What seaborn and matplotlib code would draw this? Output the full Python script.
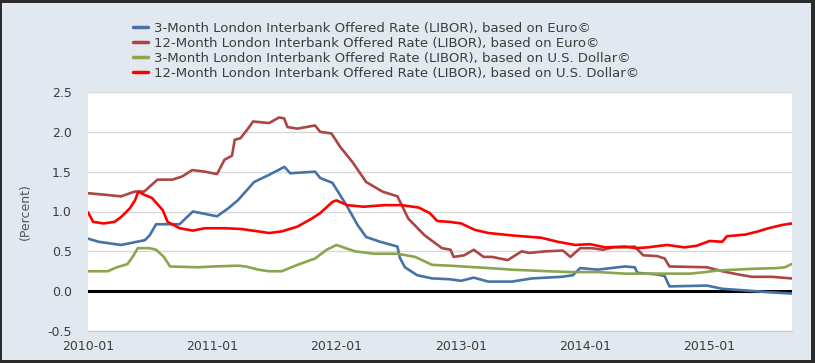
import matplotlib.pyplot as plt
import matplotlib.dates as mdates
from matplotlib import ticker
from matplotlib.patches import Rectangle
import numpy as np
import pandas as pd
import seaborn as sns

SERIES = [
    '3-Month London Interbank Offered Rate (LIBOR), based on Euro©',
    '12-Month London Interbank Offered Rate (LIBOR), based on Euro©',
    '3-Month London Interbank Offered Rate (LIBOR), based on U.S. Dollar©',
    '12-Month London Interbank Offered Rate (LIBOR), based on U.S. Dollar©',
]
COLORS = ['#4572a7', '#aa4643', '#89a54e', '#ff0000']

eur_3m_dates = ['2010-01-01', '2010-02-01', '2010-04-08', '2010-05-25', '2010-06-17', '2010-07-01',
                '2010-07-20', '2010-09-27', '2010-11-05', '2011-01-15', '2011-02-17', '2011-03-17',
                '2011-05-04', '2011-06-17', '2011-08-01', '2011-08-18', '2011-10-30', '2011-11-14',
                '2011-12-20', '2012-01-30', '2012-03-03', '2012-03-28', '2012-05-08', '2012-06-28',
                '2012-07-05', '2012-07-20', '2012-08-25', '2012-10-08', '2012-11-28', '2013-01-01',
                '2013-02-07', '2013-03-22', '2013-05-30', '2013-07-28', '2013-10-23', '2013-11-25',
                '2013-12-17', '2014-02-06', '2014-04-27', '2014-05-26', '2014-06-03', '2014-07-31',
                '2014-08-22', '2014-09-05', '2014-12-24', '2015-02-07', '2015-04-13', '2015-06-14',
                '2015-08-30']
eur_3m = [0.66, 0.62, 0.58, 0.62, 0.64, 0.70,
          0.84, 0.84, 1.00, 0.94, 1.04, 1.14,
          1.37, 1.46, 1.56, 1.48, 1.50, 1.42,
          1.36, 1.08, 0.83, 0.68, 0.62, 0.56,
          0.42, 0.30, 0.20, 0.16, 0.15, 0.13,
          0.17, 0.12, 0.12, 0.16, 0.18, 0.20,
          0.29, 0.27, 0.31, 0.30, 0.23, 0.21,
          0.19, 0.06, 0.07, 0.03, 0.01, -0.01,
          -0.03]

eur_12m_dates = ['2010-01-01', '2010-02-20', '2010-04-08', '2010-05-18', '2010-06-15', '2010-07-24',
                 '2010-09-06', '2010-10-05', '2010-11-03', '2010-12-10', '2011-01-15', '2011-02-06',
                 '2011-02-28', '2011-03-08', '2011-03-25', '2011-04-16', '2011-05-01', '2011-06-17',
                 '2011-07-16', '2011-07-31', '2011-08-10', '2011-09-08', '2011-10-30', '2011-11-14',
                 '2011-12-17', '2012-01-12', '2012-02-17', '2012-03-28', '2012-05-15', '2012-06-28',
                 '2012-07-30', '2012-09-16', '2012-11-06', '2012-12-01', '2012-12-10', '2013-01-10',
                 '2013-02-07', '2013-03-08', '2013-04-02', '2013-05-18', '2013-06-28', '2013-07-20',
                 '2013-09-06', '2013-10-27', '2013-11-18', '2013-12-17', '2014-01-19', '2014-02-22',
                 '2014-03-24', '2014-04-27', '2014-05-26', '2014-06-20', '2014-07-31', '2014-08-22',
                 '2014-09-05', '2014-12-24', '2015-02-07', '2015-03-26', '2015-05-05', '2015-07-03',
                 '2015-08-30']
eur_12m = [1.23, 1.21, 1.19, 1.25, 1.25, 1.40,
           1.40, 1.44, 1.52, 1.50, 1.47, 1.65,
           1.70, 1.90, 1.92, 2.04, 2.13, 2.11,
           2.18, 2.17, 2.06, 2.04, 2.08, 2.00,
           1.98, 1.81, 1.62, 1.37, 1.25, 1.19,
           0.91, 0.70, 0.54, 0.52, 0.43, 0.45,
           0.52, 0.43, 0.43, 0.39, 0.50, 0.48,
           0.50, 0.51, 0.43, 0.54, 0.54, 0.52,
           0.55, 0.55, 0.56, 0.45, 0.44, 0.41,
           0.31, 0.30, 0.25, 0.21, 0.18, 0.18,
           0.16]

usd_3m_dates = ['2010-01-01', '2010-02-28', '2010-03-27', '2010-04-27', '2010-05-15', '2010-05-27',
                '2010-07-01', '2010-07-20', '2010-08-12', '2010-08-30', '2010-11-20', '2011-01-05',
                '2011-03-17', '2011-04-10', '2011-05-16', '2011-06-17', '2011-07-24', '2011-09-08',
                '2011-10-30', '2011-12-03', '2012-01-01', '2012-01-28', '2012-02-24', '2012-04-20',
                '2012-06-28', '2012-08-19', '2012-10-08', '2012-11-28', '2013-01-05', '2013-03-22',
                '2013-05-30', '2013-09-13', '2013-11-18', '2014-02-06', '2014-04-27', '2014-07-31',
                '2014-11-05', '2014-12-20', '2015-01-26', '2015-05-05', '2015-07-20', '2015-08-10',
                '2015-08-30']
usd_3m = [0.25, 0.25, 0.30, 0.34, 0.45, 0.54,
          0.54, 0.52, 0.43, 0.31, 0.30, 0.31,
          0.32, 0.31, 0.27, 0.25, 0.25, 0.33,
          0.41, 0.52, 0.58, 0.54, 0.50, 0.47,
          0.47, 0.43, 0.33, 0.32, 0.31, 0.29,
          0.27, 0.25, 0.24, 0.24, 0.22, 0.22,
          0.22, 0.24, 0.26, 0.28, 0.29, 0.30,
          0.34]

usd_12m_dates = ['2010-01-01', '2010-01-16', '2010-02-16', '2010-03-20', '2010-04-08', '2010-05-04',
                 '2010-05-19', '2010-05-29', '2010-06-15', '2010-07-08', '2010-08-08', '2010-08-23',
                 '2010-09-27', '2010-11-05', '2010-12-10', '2011-02-06', '2011-03-28', '2011-05-16',
                 '2011-06-17', '2011-07-24', '2011-09-08', '2011-10-20', '2011-11-14', '2011-12-20',
                 '2012-01-01', '2012-02-01', '2012-03-20', '2012-05-23', '2012-07-10', '2012-08-29',
                 '2012-10-01', '2012-10-23', '2012-11-28', '2013-01-01', '2013-02-10', '2013-03-22',
                 '2013-05-30', '2013-08-25', '2013-10-12', '2013-12-02', '2014-01-15', '2014-02-28',
                 '2014-04-27', '2014-05-30', '2014-07-03', '2014-08-29', '2014-10-19', '2014-11-24',
                 '2015-01-01', '2015-02-07', '2015-02-21', '2015-04-16', '2015-05-23', '2015-06-23',
                 '2015-08-01', '2015-08-30']
usd_12m = [0.99, 0.87, 0.85, 0.87, 0.93, 1.04,
           1.14, 1.25, 1.21, 1.17, 1.02, 0.87,
           0.79, 0.76, 0.79, 0.79, 0.78, 0.75,
           0.73, 0.75, 0.81, 0.91, 0.98, 1.12,
           1.14, 1.08, 1.06, 1.08, 1.08, 1.05,
           0.98, 0.88, 0.87, 0.85, 0.77, 0.73,
           0.70, 0.67, 0.62, 0.58, 0.59, 0.55,
           0.56, 0.54, 0.55, 0.58, 0.55, 0.57,
           0.63, 0.62, 0.69, 0.71, 0.75, 0.79,
           0.83, 0.85]

Y_TICKS = [-0.5, 0.0, 0.5, 1.0, 1.5, 2.0, 2.5]
X_TICKS = ['2010-01-01', '2011-01-01', '2012-01-01', '2013-01-01', '2014-01-01', '2015-01-01']

BGCOLOR = '#e1e8f0'
FRAME = '#2b2b2b'
TEXT = '#3d3d3d'

frames = []
for name, dates, values in zip(SERIES, [eur_3m_dates, eur_12m_dates, usd_3m_dates, usd_12m_dates],
                               [eur_3m, eur_12m, usd_3m, usd_12m]):
    frames.append(pd.DataFrame({'date': pd.to_datetime(dates), 'rate': values, 'series': name}))
libor = pd.concat(frames, ignore_index=True)

sns.set_style('white')
plt.rcParams['font.family'] = ['DejaVu Sans']

fig = plt.figure(figsize=(8.15, 3.63), dpi=100)
fig.set_facecolor(FRAME)
fig.patches.append(Rectangle((2 / 815, 3 / 363), 809 / 815, 357 / 363, transform=fig.transFigure,
                             facecolor=BGCOLOR, edgecolor='none', zorder=-10))
ax = fig.add_axes([88 / 815, 1 - 331 / 363, 704 / 815, 239 / 363])
ax.set_zorder(1)
ax.set_facecolor('white')

sns.lineplot(data=libor, x='date', y='rate', hue='series', hue_order=SERIES, palette=COLORS,
             linewidth=1.9, ax=ax)
ax.axhline(0, color='black', lw=2.2, zorder=1)

ax.set_ylim(-0.5, 2.5)
ax.set_yticks(Y_TICKS)
ax.yaxis.set_major_formatter(ticker.FormatStrFormatter('%.1f'))
ax.set_xlim(pd.Timestamp('2010-01-01'), pd.Timestamp('2015-08-31'))
ax.set_xticks(pd.to_datetime(X_TICKS))
ax.xaxis.set_major_formatter(mdates.DateFormatter('%Y-%m'))

ax.yaxis.grid(True, color='#d8d8d8', lw=1)
ax.xaxis.grid(False)
for side in ['top', 'right', 'left']:
    ax.spines[side].set_visible(False)
ax.spines['bottom'].set_color('#c0d0e0')
ax.tick_params(axis='y', length=0, pad=11.5, labelsize=9, labelcolor=TEXT)
ax.tick_params(axis='x', length=4.5, width=1, color='#c0d0e0', pad=2, labelsize=9, labelcolor=TEXT)

ax.set_xlabel('')
ax.set_ylabel('(Percent)', fontsize=9, color='#555555')
ax.yaxis.set_label_coords(-0.08, 0.5)

handles, labels = ax.get_legend_handles_labels()
ax.legend(handles, labels, loc='upper left', bbox_to_anchor=(126 / 815, 1 - 15 / 363),
          bbox_transform=fig.transFigure, frameon=False, borderpad=0, handlelength=1.15,
          handletextpad=0.45, labelspacing=0.15, fontsize=9.5, labelcolor=TEXT)
for line in ax.get_legend().get_lines():
    line.set_linewidth(2.5)

fig.savefig('out.png', dpi=100, facecolor=fig.get_facecolor())
